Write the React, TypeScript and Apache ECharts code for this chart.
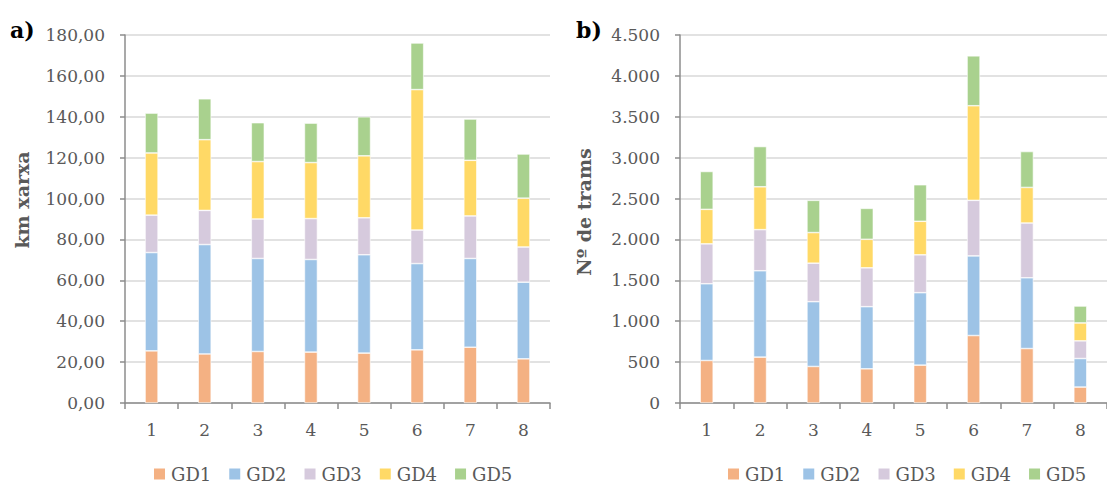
import React, { useEffect, useRef } from "react";
import * as echarts from "echarts";

const categories = ["1", "2", "3", "4", "5", "6", "7", "8"];
const seriesNames = ["GD1", "GD2", "GD3", "GD4", "GD5"];
const colors = ["#F4B183", "#9DC3E6", "#D6CADD", "#FFD966", "#A9D18E"];

// a) km xarxa
const kmGD1 = [25.5, 24.0, 25.2, 24.9, 24.4, 26.0, 27.3, 21.6];
const kmGD2 = [48.1, 53.5, 45.5, 45.3, 48.1, 42.2, 43.4, 37.5];
const kmGD3 = [18.3, 16.7, 19.3, 20.0, 18.1, 16.4, 20.8, 17.2];
const kmGD4 = [30.4, 34.6, 28.1, 27.4, 30.3, 68.7, 27.2, 23.9];
const kmGD5 = [19.5, 20.0, 19.0, 19.3, 19.1, 22.8, 20.2, 21.6];

// b) Nº de trams
const trGD1 = [520, 561, 447, 418, 463, 825, 666, 195];
const trGD2 = [938, 1056, 792, 760, 886, 974, 865, 349];
const trGD3 = [488, 503, 471, 475, 463, 679, 670, 216];
const trGD4 = [422, 524, 374, 349, 410, 1157, 435, 219];
const trGD5 = [463, 492, 394, 378, 447, 610, 439, 207];

const kmData = [kmGD1, kmGD2, kmGD3, kmGD4, kmGD5];
const trData = [trGD1, trGD2, trGD3, trGD4, trGD5];

const FONT = '"DejaVu Serif", serif';
const TEXT = "#595959";
const AXIS = "#8C8C8C";

export default function App() {
  const ref = useRef<HTMLDivElement>(null);
  useEffect(() => {
    if (!ref.current) return;
    const chart = echarts.init(ref.current, undefined, { renderer: "svg" });
    const xAxisBase = (gridIndex: number) => ({
      type: "category" as const,
      gridIndex,
      data: categories,
      axisLine: { lineStyle: { color: AXIS, width: 1.5 } },
      axisTick: { show: true, length: 6, lineStyle: { color: AXIS, width: 1.5 } },
      axisLabel: { color: TEXT, fontFamily: FONT, fontSize: 17, margin: 18 },
    });
    const yAxisBase = (gridIndex: number, max: number, interval: number, fmt: (v: number) => string) => ({
      type: "value" as const,
      gridIndex,
      min: 0,
      max,
      interval,
      axisLine: { show: true, lineStyle: { color: AXIS, width: 1.5 } },
      axisTick: { show: true, length: 5, lineStyle: { color: AXIS, width: 1.5 } },
      axisLabel: { color: TEXT, fontFamily: FONT, fontSize: 17, margin: 20, formatter: fmt },
      splitLine: { lineStyle: { color: "#D9D9D9", width: 1.5 } },
    });
    const series: any[] = [];
    seriesNames.forEach((n, i) => {
      series.push({
        name: n,
        type: "bar",
        stack: "a",
        xAxisIndex: 0,
        yAxisIndex: 0,
        barWidth: 13,
        data: kmData[i],
        itemStyle: { color: colors[i], borderColor: "#ffffff", borderWidth: 0.6 },
      });
    });
    seriesNames.forEach((n, i) => {
      series.push({
        name: n,
        type: "bar",
        stack: "b",
        xAxisIndex: 1,
        yAxisIndex: 1,
        barWidth: 13,
        data: trData[i],
        itemStyle: { color: colors[i], borderColor: "#ffffff", borderWidth: 0.6 },
      });
    });
    const legendBase = {
      data: seriesNames,
      orient: "horizontal" as const,
      itemWidth: 13,
      itemHeight: 13,
      itemGap: 16,
      padding: 0,
      icon: "rect",
      textStyle: { color: TEXT, fontFamily: FONT, fontSize: 18, lineHeight: 18 },
      top: 465,
    };
    chart.setOption({
      animation: false,
      color: colors,
      grid: [
        { left: 125, top: 35, width: 425, height: 368 },
        { left: 680, top: 35, width: 432, height: 368 },
      ],
      xAxis: [xAxisBase(0), xAxisBase(1)],
      yAxis: [
        yAxisBase(0, 180, 20, (v: number) => v.toFixed(2).replace(".", ",")),
        yAxisBase(1, 4500, 500, (v: number) => String(v).replace(/\B(?=(\d{3})+(?!\d))/g, ".")),
      ],
      legend: [
        { ...legendBase, left: 152 },
        { ...legendBase, left: 726 },
      ],
      graphic: [
        { type: "text", x: 10, y: 30, style: { text: "a)", font: `bold 22px ${FONT}`, fill: "#000", align: "left", verticalAlign: "middle" } },
        { type: "text", x: 576, y: 30, style: { text: "b)", font: `bold 22px ${FONT}`, fill: "#000", align: "left", verticalAlign: "middle" } },
        {
          type: "text",
          x: 22,
          y: 200,
          rotation: Math.PI / 2,
          style: { text: "km xarxa", font: `bold 19px ${FONT}`, fill: TEXT, align: "center", verticalAlign: "middle" },
        },
        {
          type: "text",
          x: 584,
          y: 212,
          rotation: Math.PI / 2,
          style: { text: "Nº de trams", font: `bold 19px ${FONT}`, fill: TEXT, align: "center", verticalAlign: "middle" },
        },
      ],
      series,
    });
    return () => chart.dispose();
  }, []);
  return (
    <div
      ref={ref}
      style={{ position: "fixed", left: 0, top: 0, width: 1107, height: 484, background: "#fff" }}
    />
  );
}
